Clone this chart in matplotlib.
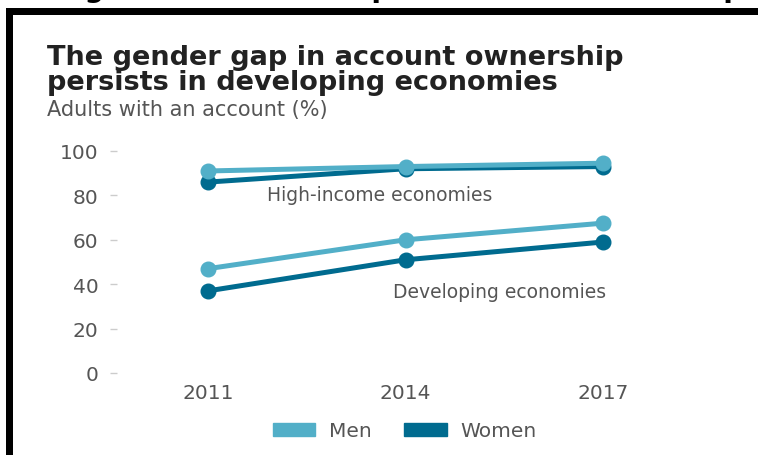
import matplotlib
matplotlib.use('Agg')
import matplotlib.pyplot as plt
from matplotlib.patches import Rectangle, Patch

years = ['2011', '2014', '2017']
high_men = [91, 93, 94.5]
high_women = [86, 92, 93]
dev_men = [47, 60, 67.5]
dev_women = [37, 51, 59]
yticks = [0, 20, 40, 60, 80, 100]

MEN = '#52AFC8'
WOMEN = '#006B8F'
GREY = '#555555'
W, H = 758, 456

fig = plt.figure(figsize=(W / 100, H / 100), dpi=100)


def fx(px):
    return px / W


def fy(py):
    return 1 - py / H


# Cut-off heading and black frame
fig.text(fx(400), fy(-3), 'Figure 1: Gender Gap in Account Ownership', ha='center',
         va='baseline', fontsize=20, fontweight='bold', color='black')
fig.add_artist(Rectangle((fx(6), fy(16)), 1 - fx(6), fy(9) - fy(16),
                         transform=fig.transFigure, color='black', lw=0))
fig.add_artist(Rectangle((fx(6), 0), fx(13) - fx(6), fy(9),
                         transform=fig.transFigure, color='black', lw=0))

# Titles
fig.text(fx(47), fy(65), 'The gender gap in account ownership', ha='left', va='baseline',
         fontsize=19.5, fontweight='bold', color='#222222')
fig.text(fx(47), fy(90), 'persists in developing economies', ha='left', va='baseline',
         fontsize=19.5, fontweight='bold', color='#222222')
fig.text(fx(47), fy(116), 'Adults with an account (%)', ha='left', va='baseline',
         fontsize=15, color=GREY)

ax = fig.add_axes([fx(117), fy(374), fx(700) - fx(117), fy(152) - fy(374)])
x = list(range(len(years)))
for vals, c in [(high_women, WOMEN), (high_men, MEN), (dev_women, WOMEN), (dev_men, MEN)]:
    ax.plot(x, vals, color=c, lw=3.6, marker='o', ms=10.5, solid_capstyle='round',
            clip_on=False, zorder=3)

ax.set_xlim(-0.461, 2.491)
ax.set_ylim(0, 100)
ax.set_xticks(x)
ax.set_xticklabels(years)
ax.set_yticks(yticks)
for s in ax.spines.values():
    s.set_visible(False)
ax.tick_params(axis='y', length=5, width=1, color='#cccccc', pad=8.5, labelsize=14.5,
               labelcolor=GREY)
ax.tick_params(axis='x', length=0, pad=7, labelsize=14.5, labelcolor=GREY)

ax.text(0.871, 80.6, 'High-income economies', ha='center', va='center', fontsize=13.5,
        color=GREY)
ax.text(1.478, 36.9, 'Developing economies', ha='center', va='center', fontsize=13.5,
        color=GREY)

fig.legend(handles=[Patch(color=MEN, label='Men'), Patch(color=WOMEN, label='Women')],
           loc='center', bbox_to_anchor=(fx(405), fy(432)), ncol=2, frameon=False,
           fontsize=14.5, handlelength=2.1, handleheight=0.6, handletextpad=0.7,
           columnspacing=1.6, labelcolor=GREY)

fig.savefig('out.png', dpi=100)
